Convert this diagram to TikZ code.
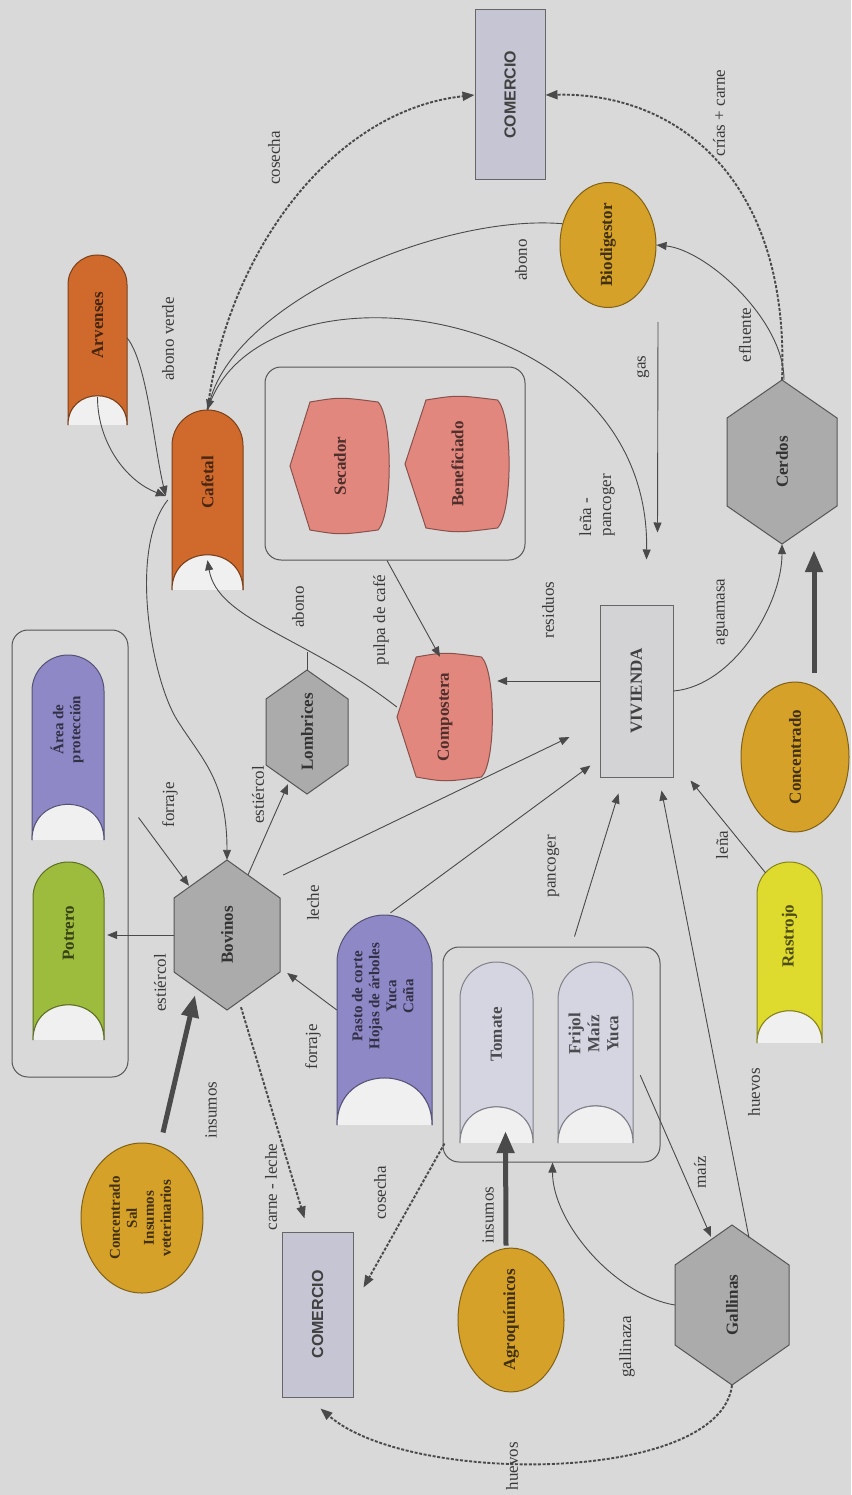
\documentclass[tikz,border=0pt]{standalone}
\usepackage{fontspec}
\setmainfont{Liberation Serif}
\setsansfont{Liberation Sans}
\usepackage{graphicx}
\usetikzlibrary{arrows.meta,calc,shapes.geometric}

\definecolor{bgc}{HTML}{D9D9D9}
\definecolor{orangeF}{HTML}{CF6A2C}
\definecolor{pinkF}{HTML}{E2877E}
\definecolor{goldF}{HTML}{D6A128}
\definecolor{hexF}{HTML}{ABABAB}
\definecolor{comF}{HTML}{C5C5D3}
\definecolor{vivF}{HTML}{D3D3D6}
\definecolor{purpF}{HTML}{8E88C6}
\definecolor{greenF}{HTML}{9DBB3C}
\definecolor{yellowF}{HTML}{DFDB2E}
\definecolor{cropF}{HTML}{D5D5E2}
\definecolor{linec}{HTML}{4A4A4A}
\definecolor{labelc}{HTML}{3A3A3A}
\definecolor{contc}{HTML}{555555}

\newcommand\lblfont{\fontsize{17}{20}\selectfont}
\newcommand\ntfont{\fontsize{17}{19}\selectfont\bfseries}
\newcommand\smallnt{\fontsize{15}{17}\selectfont\bfseries}

\newcommand\bannernode[7]{%
  \pgfmathsetmacro\bnR{(#3-#1)/2}%
  \pgfmathsetmacro\bnC{(#1+#3)/2}%
  \pgfmathsetmacro\bnK{0.552*\bnR}%
  \pgfmathsetmacro\bnD{(#3-#1)*0.66}%
  \pgfmathsetmacro\bnM{(#2+#4)/2}%
  \pgfmathsetmacro\bnW{#3-#1}%
  \pgfmathsetmacro\bnH{#4-#2}%
  \pgfmathsetmacro\bnS{0.5*(#3-#1)}%
  \path[shp, fill=#5, draw=#5!60!black] (#1,#4) -- (#1,#2+\bnR) .. controls (#1,#2+\bnR-\bnK) and (\bnC-\bnK,#2) .. (\bnC,#2) .. controls (\bnC+\bnK,#2) and (#3,#2+\bnR-\bnK) .. (#3,#2+\bnR) -- (#3,#4) .. controls (#3,#4-\bnD) and (#1,#4-\bnD) .. (#1,#4) -- cycle;
  \fill[white!60!bgc] (#1,#4) .. controls (#1,#4-\bnD) and (#3,#4-\bnD) .. (#3,#4) -- cycle;
  \draw[line width=1pt, #5!60!black] (#3,#4) .. controls (#3,#4-\bnD) and (#1,#4-\bnD) .. (#1,#4);
  \node[ntx, text=#5!35!black, minimum width=\bnW pt, minimum height=\bnH pt] (#6) at (\bnC,\bnM) {\rotatebox{90}{\hspace*{\bnS pt}#7}};
}

\newcommand\hexnode[8]{%
  \path[shp, fill=#6, draw=#6!50!black] (#1,#2-#4) -- (#1+#3,#2-#4+#5) -- (#1+#3,#2+#4-#5) -- (#1,#2+#4) -- (#1-#3,#2+#4-#5) -- (#1-#3,#2-#4+#5) -- cycle;
  \node[ntx, text=#6!30!black, minimum width=2*#3pt, minimum height=2*#4pt] (#7) at (#1,#2) {\rotatebox{90}{#8}};
}

\newcommand\dispnode[7]{%
  \pgfmathsetmacro\dnP{0.2*(#3-#1)}%
  \pgfmathsetmacro\dnQ{0.12*(#3-#1)}%
  \pgfmathsetmacro\dnM{(#2+#4)/2}%
  \pgfmathsetmacro\dnC{(#1+#3)/2}%
  \pgfmathsetmacro\dnH{#4-#2}%
  \pgfmathsetmacro\dnW{#3-#1}%
  \path[shp, fill=#5, draw=#5!60!black] (#1,\dnM) -- (#1+\dnP,#2) .. controls (\dnC,#2-5) .. (#3-\dnQ,#2) .. controls (#3+3,#2+0.12*\dnH) and (#3+3,#4-0.12*\dnH) .. (#3-\dnQ,#4) .. controls (\dnC,#4+5) .. (#1+\dnP,#4) -- cycle;
  \node[ntx, text=#5!35!black, minimum width=\dnW pt, minimum height=\dnH pt] (#6) at (\dnC,\dnM) {\rotatebox{90}{#7}};
}

\begin{document}
\begin{tikzpicture}[x=1pt,y=-1pt,
  shp/.style={line width=1pt},
  ntx/.style={inner sep=0pt, font=\ntfont, align=center},
  lbl/.style={inner sep=0pt, font=\lblfont, text=labelc},
  conn/.style={draw=linec, line width=0.9pt, -{Triangle[length=10pt,width=8pt]}},
  plainline/.style={draw=linec, line width=0.9pt},
  dconn/.style={draw=linec, line width=1.9pt, dash pattern=on 3pt off 1.6pt, -{Triangle[length=12pt,width=9pt]}},
  thickarrow/.style={draw=linec, line width=5pt, -{Triangle[length=22pt,width=17pt]}},
  cont/.style={draw=contc, line width=1pt, rounded corners=16pt, inner sep=0pt},
  ell/.style={ellipse, draw=goldF!60!black, fill=goldF, line width=1pt, inner sep=0pt, text=goldF!30!black, font=\ntfont, align=center},
  rectn/.style={rectangle, draw=black!60, line width=1pt, inner sep=0pt, text=black!75}
]
\fill[bgc] (0,0) rectangle (851,1495);
\useasboundingbox (0,0) rectangle (851,1495);

% containers
\node[cont, minimum width=260pt, minimum height=193pt] (contP) at (395,463.5) {};
\node[cont, minimum width=116pt, minimum height=447pt] (contL) at (70,853.5) {};
\node[cont, minimum width=217pt, minimum height=215pt] (contC) at (551.5,1054.5) {};

% rectangles
\node[rectn, fill=comF, minimum width=70pt, minimum height=170pt, font=\sffamily\bfseries\fontsize{16}{18}\selectfont] (com1) at (510,95) {\rotatebox{90}{COMERCIO}};
\node[rectn, fill=comF, minimum width=71pt, minimum height=165pt, font=\sffamily\bfseries\fontsize{16}{18}\selectfont] (com2) at (317.5,1314.5) {\rotatebox{90}{COMERCIO}};
\node[rectn, fill=vivF, minimum width=73pt, minimum height=172pt, font=\ntfont] (viv) at (636.5,691) {\rotatebox{90}{VIVIENDA}};

% ellipses
\node[ell, minimum width=96pt, minimum height=125pt] (bio) at (608,245) {\rotatebox{90}{Biodigestor}};
\node[ell, minimum width=108pt, minimum height=150pt] (conc) at (795,757) {\rotatebox{90}{Concentrado}};
\node[ell, minimum width=122pt, minimum height=150pt, font=\smallnt] (csal) at (142,1218) {\rotatebox{90}{\begin{tabular}{@{}c@{}}Concentrado\\Sal\\Insumos\\veterinarios\end{tabular}}};
\node[ell, minimum width=106pt, minimum height=128pt] (jar) at (511,1320) {\rotatebox{90}{Agroquímicos}};

% banners
\bannernode{68}{255}{127}{425}{orangeF}{arv}{Arvenses}
\bannernode{172}{410}{243}{590}{orangeF}{caf}{Cafetal}
\bannernode{32}{655}{104}{840}{purpF}{area}{\smallnt\begin{tabular}{@{}c@{}}Área de\\protección\end{tabular}}
\bannernode{33}{862}{104}{1040}{greenF}{pot}{Potrero}
\bannernode{337}{915}{432}{1125}{purpF}{pasto}{\smallnt\begin{tabular}{@{}c@{}}Pasto de corte\\Hojas de árboles\\Yuca\\Caña\end{tabular}}
\bannernode{460}{962}{533}{1143}{cropF}{tom}{Tomate}
\bannernode{558}{962}{633}{1143}{cropF}{fri}{\begin{tabular}{@{}c@{}}Frijol\\Maíz\\Yuca\end{tabular}}
\bannernode{757}{862}{822}{1043}{yellowF}{ras}{Rastrojo}

% display shapes
\dispnode{290}{402}{390}{530}{pinkF}{sec}{Secador}
\dispnode{405}{400}{510}{528}{pinkF}{ben}{Beneficiado}
\dispnode{397}{657}{493}{777}{pinkF}{comp}{Compostera}

% hexagons
\hexnode{782}{462}{55}{82}{38}{hexF}{cer}{Cerdos}
\hexnode{307}{732}{41}{62}{29}{hexF}{lom}{Lombrices}
\hexnode{227}{935}{53}{75}{38}{hexF}{bov}{Bovinos}
\hexnode{732}{1305}{57}{80}{40}{hexF}{gal}{Gallinas}

% connectors
\draw[dconn] (caf.north) .. controls +(20,-160) and +(-140,15) .. (com1.west);
\draw[conn] (bio.155) .. controls +(-120,-10) and +(30,-110) .. (caf.north);
\draw[conn] (caf.north) .. controls +(50,-160) and +(4,-260) .. ($(viv.north)+(10,-45)$);
\draw[conn] ($(bio.south)+(50,14)$) -- ($(viv.north)+(21,-72)$);
\draw[conn] ($(cer.north)+(2,0)$) .. controls +(0,-60) and +(50,5) .. (bio.east);
\draw[dconn] (cer.north) .. controls +(8,-200) and +(132,-3) .. (com1.east);
\draw[conn] ($(viv.west)+(0,-10)$) -- ($(comp.east)+(4,-36)$);
\draw[conn] ($(contP.south)+(-8,0)$) -- ($(comp.north)+(-5,0)$);
\draw[conn] ($(comp.west)+(0,-10)$) .. controls +(-90,-70) and +(10,60) .. ($(caf.south)+(0,-30)$);
\draw[plainline] (lom.north) -- ($(lom.north)+(0,-18)$);
\draw[conn] (viv.east) .. controls +(60,-5) and +(0,60) .. (cer.south);
\draw[thickarrow] ($(conc.north)+(19,-9)$) -- ($(cer.south)+(32,6)$);
\draw[conn] (bov.west) -- ($(pot.east)+(3,-16)$);
\draw[conn] ($(bov.north)+(21,15)$) -- ($(lom.south)+(-19,-10)$);
\draw[conn] ($(bov.east)+(3,-60)$) -- ($(viv.west)+(-30,46)$);
\draw[conn] ($(contL.east)+(10,-36)$) -- ($(bov.north)+(-38,26)$);
\draw[conn] ($(caf.west)+(-4,0)$) .. controls +(-40,50) and +(-25,-40) .. ($(bov.north)+(-50,-140)$) .. controls +(25,40) and +(0,-80) .. (bov.north);
\draw[conn] ($(arv.east)+(0,-2)$) .. controls +(20,25) and +(-12,-50) .. ($(caf.west)+(-6,-4)$);
\draw[conn] ($(arv.south)+(0,-28)$) .. controls +(0,45) and +(-40,-15) .. ($(caf.west)+(-6,-4)$);
\draw[conn] ($(pasto.west)+(0,-10)$) -- ($(bov.east)+(7,38)$);
\draw[conn] ($(pasto.north)+(6,-2)$) -- ($(viv.south west)+(-9,-12)$);
\draw[conn] ($(contC.north)+(23,-10)$) -- ($(viv.south)+(-18,16)$);
\draw[conn] ($(gal.north)+(17,13)$) -- ($(viv.south)+(25,13)$);
\draw[conn] ($(ras.north)+(-24,11)$) -- ($(viv.south east)+(17,3)$);
\draw[conn] ($(fri.south east)+(7,-68)$) -- ($(gal.north)+(-21,12)$);
\draw[conn] (gal.west) .. controls +(-60,-10) and +(0,60) .. ($(contC.south)+(1,0)$);
\draw[thickarrow] ($(jar.north)+(-5,-2)$) -- ($(tom.south)+(9,-12)$);
\draw[thickarrow] ($(csal.north)+(21,-10)$) -- ($(bov.south)+(-32,-15)$);
\draw[dconn] ($(bov.south)+(14,-3)$) -- ($(com2.north)+(-13,-13)$);
\draw[dconn] ($(contC.south west)+(2,-19)$) -- ($(com2.north east)+(10,56)$);
\draw[dconn] (gal.south) .. controls +(-12,99) and +(89,77) .. ($(com2.south)+(3,11)$);

% labels
\node[lbl] (t1) at (274,158) {\rotatebox{90}{cosecha}};
\node[lbl] (t2) at (168,339) {\rotatebox{90}{abono verde}};
\node[lbl] (t3) at (521,260) {\rotatebox{90}{abono}};
\node[lbl] (t4) at (719,113) {\rotatebox{90}{crías + carne}};
\node[lbl] (t5) at (643,367) {\rotatebox{90}{gas}};
\node[lbl] (t6) at (745,335) {\rotatebox{90}{efluente}};
\node[lbl] (t7) at (597,505) {\rotatebox{90}{\begin{tabular}{@{}l@{}}leña -\\pancoger\end{tabular}}};
\node[lbl] (t8) at (548,610) {\rotatebox{90}{residuos}};
\node[lbl] (t9) at (722,612) {\rotatebox{90}{aguamasa}};
\node[lbl] (t10) at (298,607) {\rotatebox{90}{abono}};
\node[lbl] (t11) at (381,620) {\rotatebox{90}{pulpa de café}};
\node[lbl] (t12) at (258,795) {\rotatebox{90}{estiércol}};
\node[lbl] (t13) at (170,805) {\rotatebox{90}{forraje}};
\node[lbl] (t14) at (313,903) {\rotatebox{90}{leche}};
\node[lbl] (t15) at (553,866) {\rotatebox{90}{pancoger}};
\node[lbl] (t16) at (722,845) {\rotatebox{90}{leña}};
\node[lbl] (t17) at (160,983) {\rotatebox{90}{estiércol}};
\node[lbl] (t18) at (313,1047) {\rotatebox{90}{forraje}};
\node[lbl] (t19) at (211,1110) {\rotatebox{90}{insumos}};
\node[lbl] (t20) at (754,1092) {\rotatebox{90}{huevos}};
\node[lbl] (t21) at (271,1187) {\rotatebox{90}{carne - leche}};
\node[lbl] (t22) at (380,1193) {\rotatebox{90}{cosecha}};
\node[lbl] (t23) at (488,1215) {\rotatebox{90}{insumos}};
\node[lbl] (t24) at (700,1172) {\rotatebox{90}{maíz}};
\node[lbl] (t25) at (627,1347) {\rotatebox{90}{gallinaza}};
\node[lbl] (t26) at (512,1466) {\rotatebox{90}{huevos}};
\end{tikzpicture}
\end{document}
